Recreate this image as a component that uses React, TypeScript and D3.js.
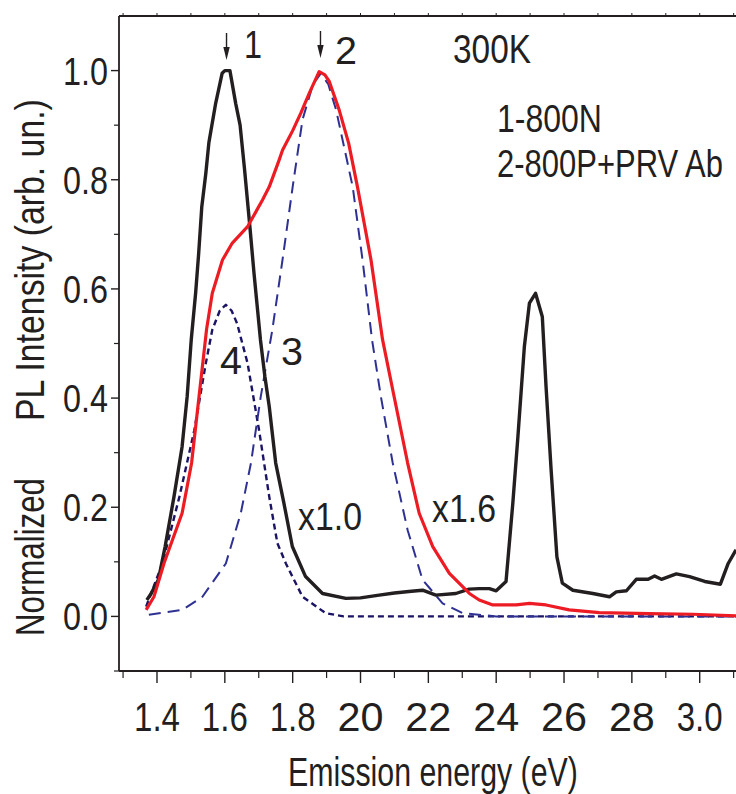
import React, { useLayoutEffect, useRef, useState } from "react";
import * as d3 from "d3";

const W = 736;
const H = 794;

// Curve 1 (black, 800N, x1.0)
const e1 = [1.370,1.381,1.404,1.424,1.450,1.474,1.489,1.501,1.514,1.523,1.532,1.544,1.553,1.573,1.592,1.600,1.615,1.632,1.645,1.658,1.674,1.686,1.705,1.718,1.731,1.750,1.774,1.799,1.838,1.888,1.957,2.000,2.055,2.100,2.150,2.183,2.222,2.281,2.320,2.350,2.380,2.400,2.429,2.449,2.464,2.483,2.498,2.516,2.536,2.547,2.562,2.579,2.595,2.626,2.685,2.734,2.754,2.784,2.813,2.848,2.867,2.887,2.931,2.970,3.015,3.061,3.084,3.107];
const i1 = [0.030,0.040,0.067,0.128,0.219,0.311,0.403,0.507,0.593,0.666,0.750,0.812,0.868,0.940,0.995,1.000,1.000,0.940,0.900,0.820,0.713,0.629,0.507,0.440,0.384,0.281,0.208,0.128,0.073,0.042,0.033,0.034,0.039,0.043,0.046,0.048,0.039,0.042,0.050,0.051,0.051,0.047,0.064,0.207,0.329,0.494,0.574,0.592,0.549,0.421,0.268,0.109,0.061,0.048,0.042,0.036,0.045,0.047,0.068,0.068,0.074,0.068,0.078,0.073,0.064,0.059,0.097,0.122];

// Curve 2 (red, 800P+PRV Ab, x1.6)
const e2 = [1.368,1.391,1.421,1.474,1.502,1.524,1.546,1.563,1.593,1.622,1.667,1.711,1.731,1.760,1.770,1.800,1.824,1.850,1.878,1.895,1.908,1.937,1.965,1.991,2.031,2.065,2.099,2.139,2.173,2.213,2.262,2.321,2.350,2.390,2.459,2.498,2.547,2.615,2.704,2.850,2.980,3.107];
const i2 = [0.012,0.036,0.098,0.189,0.281,0.403,0.525,0.592,0.653,0.684,0.714,0.763,0.787,0.836,0.854,0.890,0.922,0.960,0.998,0.992,0.980,0.928,0.867,0.787,0.653,0.507,0.403,0.281,0.189,0.128,0.079,0.042,0.030,0.021,0.021,0.024,0.021,0.012,0.007,0.005,0.004,0.001];

// Curve 3 (blue long dash)
const e3 = [1.376,1.475,1.534,1.603,1.647,1.677,1.706,1.740,1.770,1.800,1.829,1.860,1.883,1.905,1.928,1.977,2.006,2.034,2.060,2.095,2.139,2.183,2.242,2.301,2.400,3.107];
const i3 = [0.003,0.012,0.036,0.097,0.189,0.281,0.403,0.525,0.653,0.787,0.910,0.975,0.995,0.975,0.928,0.787,0.653,0.507,0.403,0.281,0.158,0.067,0.024,0.006,0.000,0.000];

// Curve 4 (navy short dash)
const e4 = [1.368,1.416,1.466,1.510,1.544,1.563,1.585,1.603,1.620,1.636,1.667,1.701,1.731,1.755,1.780,1.829,1.897,1.950,3.107];
const i4 = [0.018,0.097,0.219,0.341,0.464,0.525,0.560,0.571,0.560,0.537,0.464,0.341,0.219,0.134,0.097,0.036,0.006,0.000,0.000];

const yTickValues = [0, 0.2, 0.4, 0.6, 0.8, 1.0];
const yTickLabels = ["0.0", "0.2", "0.4", "0.6", "0.8", "1.0"];
const yMinorValues = [-0.1, 0.1, 0.3, 0.5, 0.7, 0.9];
const xTickValues = [1.4, 1.6, 1.8, 2.0, 2.2, 2.4, 2.6, 2.8, 3.0];
const xTickLabels = ["1.4", "1.6", "1.8", "20", "22", "24", "26", "28", "3.0"];
const xMinorValues = [1.3, 1.5, 1.7, 1.9, 2.1, 2.3, 2.5, 2.7, 2.9, 3.1];

const FONT = "'Liberation Sans', Arial, sans-serif";
const INK = "#231f20";

type FitProps = { s: string; x: number; y: number; fs: number; w: number; anchor?: string; rotate?: number };

function FitText({ s, x, y, fs, w, anchor = "start", rotate = 0 }: FitProps) {
  const ref = useRef<SVGTextElement>(null);
  const [k, setK] = useState(1);
  useLayoutEffect(() => {
    if (ref.current) {
      const n = ref.current.getComputedTextLength();
      if (n > 0) setK(w / n);
    }
  }, [s, w, fs]);
  return (
    <text
      ref={ref}
      transform={`translate(${x},${y}) rotate(${rotate}) scale(${k},1)`}
      fontSize={fs}
      fontFamily={FONT}
      fill={INK}
      textAnchor={anchor}
    >
      {s}
    </text>
  );
}

export default function App() {
  const left = 119;
  const top = 16;
  const bottom = 671;
  const x = d3.scaleLinear().domain([1.288, 3.107]).range([left, W]);
  const y = d3.scaleLinear().domain([-0.1, 1.1]).range([bottom, top]);

  const mk = (es: number[], is: number[]) =>
    d3.line<number>().x((_, k) => x(es[k])).y((v) => y(v))(is) || "";

  const arrow = (px: number, y0: number, y1: number) => (
    <g>
      <line x1={px} x2={px} y1={y0} y2={y1 - 10} stroke={INK} strokeWidth={1.4} />
      <path d={`M${px - 3.2},${y1 - 13} L${px + 3.2},${y1 - 13} L${px},${y1} Z`} fill={INK} />
    </g>
  );

  return (
    <svg width={W} height={H} style={{ position: "absolute", left: 0, top: 0, background: "#fff" }}>
      <defs>
        <clipPath id="plot">
          <rect x={left} y={top} width={W - left} height={bottom - top} />
        </clipPath>
      </defs>

      {/* frame */}
      <line x1={left} x2={left} y1={top} y2={bottom} stroke={INK} strokeWidth={1.8} />
      <line x1={left} x2={W} y1={top} y2={top} stroke={INK} strokeWidth={1.8} />
      <line x1={left} x2={W} y1={bottom} y2={bottom} stroke={INK} strokeWidth={1.8} />

      {/* y ticks */}
      {yTickValues.map((v, k) => (
        <g key={"yt" + k}>
          <line x1={left - 8} x2={left} y1={y(v)} y2={y(v)} stroke={INK} strokeWidth={1.4} />
          <FitText s={yTickLabels[k]} x={108} y={y(v) + 14} fs={38} w={45} anchor="end" />
        </g>
      ))}
      {yMinorValues.map((v, k) => (
        <line key={"ym" + k} x1={left - 5} x2={left} y1={y(v)} y2={y(v)} stroke={INK} strokeWidth={1.2} />
      ))}

      {/* x ticks */}
      {xTickValues.map((v, k) => (
        <g key={"xt" + k}>
          <line x1={x(v)} x2={x(v)} y1={bottom} y2={bottom + 12} stroke={INK} strokeWidth={1.4} />
          <FitText s={xTickLabels[k]} x={x(v)} y={731} fs={40} w={46} anchor="middle" />
        </g>
      ))}
      {xMinorValues.map((v, k) => (
        <line key={"xm" + k} x1={x(v)} x2={x(v)} y1={bottom} y2={bottom + 7} stroke={INK} strokeWidth={1.2} />
      ))}
      {[...xTickValues, ...xMinorValues].map((v, k) => (
        <line key={"tt" + k} x1={x(v)} x2={x(v)} y1={top} y2={top - 3} stroke={INK} strokeWidth={1} />
      ))}

      {/* curves */}
      <g clipPath="url(#plot)" fill="none" strokeLinejoin="round">
        <path d={mk(e4, i4)} stroke="#1b1464" strokeWidth={2.4} strokeDasharray="6,4" />
        <path d={mk(e3, i3)} stroke="#2e3192" strokeWidth={2} strokeDasharray="12,7" />
        <path d={mk(e1, i1)} stroke={INK} strokeWidth={3.4} />
        <path d={mk(e2, i2)} stroke="#ed1c24" strokeWidth={3.2} />
      </g>

      {/* annotations */}
      {arrow(x(1.605), 33, 60)}
      {arrow(x(1.882), 31, 58)}
      <FitText s="1" x={244} y={58} fs={38} w={18} />
      <FitText s="2" x={335} y={64} fs={38} w={22} />
      <FitText s="300K" x={453} y={63} fs={40} w={78} />
      <FitText s="1-800N" x={497} y={132} fs={38} w={105} />
      <FitText s="2-800P+PRV Ab" x={497} y={177} fs={38} w={226} />
      <FitText s="3" x={281} y={365} fs={38} w={22} />
      <FitText s="4" x={220} y={374} fs={38} w={22} />
      <FitText s="x1.0" x={298} y={530} fs={38} w={64} />
      <FitText s="x1.6" x={432} y={522} fs={38} w={64} />

      {/* axis titles */}
      <FitText s="Emission energy (eV)" x={288} y={786} fs={40} w={290} />
      <FitText s="Normalized" x={44} y={636} fs={40} w={158} rotate={-90} />
      <FitText s="PL Intensity (arb. un.)" x={44} y={421} fs={40} w={322} rotate={-90} />
    </svg>
  );
}
